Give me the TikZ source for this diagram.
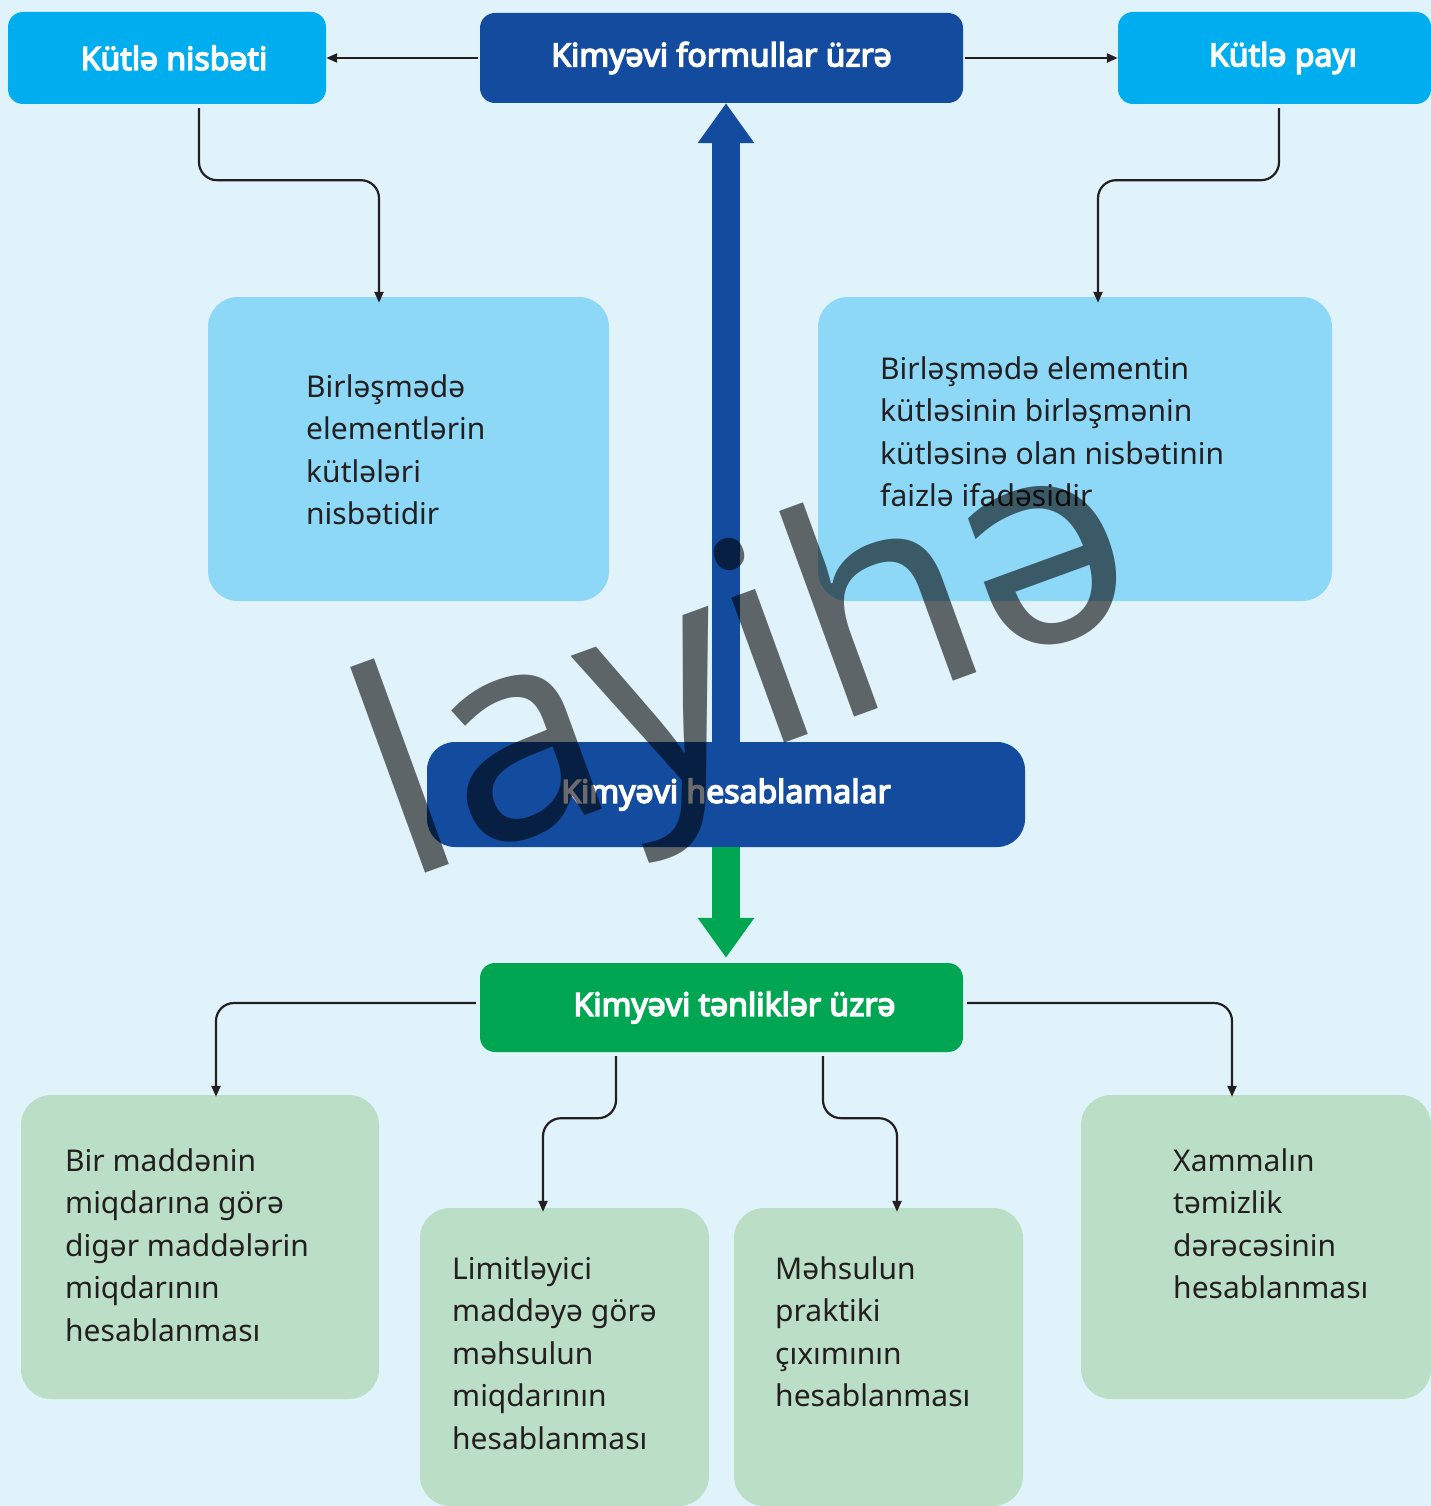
\documentclass[tikz,border=0pt]{standalone}
\usepackage{fontspec}
\setmainfont{Noto Sans}
\newfontfamily\hdrfont{Noto Sans}[FakeBold=4.5]
\usetikzlibrary{arrows.meta,calc}
\definecolor{bgc}{HTML}{E0F3FB}
\definecolor{cyanc}{HTML}{00AEEF}
\definecolor{darkc}{HTML}{134B9F}
\definecolor{lightc}{HTML}{8ED8F7}
\definecolor{greenc}{HTML}{00A651}
\definecolor{lgreenc}{HTML}{BBDFC6}
\definecolor{inkc}{HTML}{231F20}
\tikzset{
  hdr/.style={rectangle, rounded corners=15pt, inner sep=0pt, text=white,
    font=\hdrfont\fontsize{32}{37}\selectfont},
  softbox/.style={rectangle, rounded corners=30pt, inner sep=0pt},
  bodytext/.style={anchor=north west, align=left, inner sep=0pt, text=inkc,
    font=\fontsize{30}{42.5}\selectfont},
  conn/.style={draw=inkc, line width=2.2pt, rounded corners=18pt,
    -{Triangle[length=11pt,width=9pt]}},
  bigarrow/.style={line width=28pt, -{Triangle[length=40pt,width=54pt]}},
  wm/.style={inner sep=0pt, text=black, text opacity=0.58,
    font=\fontsize{288}{288}\selectfont}
}
\begin{document}
\begin{tikzpicture}[x=1pt,y=-1pt]
\useasboundingbox (0,0) rectangle (1431,1506);
\fill[bgc] (0,0) rectangle (1431,1506);

% top headers
\node[hdr, fill=cyanc, minimum width=318pt, minimum height=92pt] (kn) at (167,58) {\hspace*{14pt}Kütlə nisbəti};
\node[hdr, fill=darkc, minimum width=483pt, minimum height=90pt] (kf) at (721.5,58) {Kimyəvi formullar üzrə};
\node[hdr, fill=cyanc, minimum width=313pt, minimum height=92pt] (kp) at (1274.5,58) {\hspace*{17pt}Kütlə payı};

% light blue boxes
\node[softbox, fill=lightc, minimum width=401pt, minimum height=304pt] (lb1) at (408.5,449) {};
\node[softbox, fill=lightc, minimum width=514pt, minimum height=304pt] (lb2) at (1075,449) {};
\node[bodytext] (t1) at (306,374) {Birləşmədə\\elementlərin\\kütlələri\\nisbətidir};
\node[bodytext] (t2) at (880,356) {Birləşmədə elementin\\kütləsinin birləşmənin\\kütləsinə olan nisbətinin\\faizlə ifadəsidir};

% central
\node[hdr, rounded corners=28pt, fill=darkc, minimum width=598pt, minimum height=105pt] (kh) at (726,794.5) {Kimyəvi hesablamalar};
\node[hdr, fill=greenc, minimum width=483pt, minimum height=89pt] (kt) at (721.5,1007.5) {\hspace*{26pt}Kimyəvi tənliklər üzrə};

% green boxes
\node[softbox, fill=lgreenc, minimum width=358pt, minimum height=304pt] (g1) at (200,1247) {};
\node[softbox, fill=lgreenc, minimum width=289pt, minimum height=298pt] (g2) at (564.5,1357) {};
\node[softbox, fill=lgreenc, minimum width=289pt, minimum height=298pt] (g3) at (878.5,1357) {};
\node[softbox, fill=lgreenc, minimum width=350pt, minimum height=304pt] (g4) at (1256,1247) {};
\node[bodytext] (t3) at (65,1148) {Bir maddənin\\miqdarına görə\\digər maddələrin\\miqdarının\\hesablanması};
\node[bodytext] (t4) at (452,1256) {Limitləyici\\maddəyə görə\\məhsulun\\miqdarının\\hesablanması};
\node[bodytext] (t5) at (775,1256) {Məhsulun\\praktiki\\çıxımının\\hesablanması};
\node[bodytext] (t6) at (1173,1148) {Xammalın\\təmizlik\\dərəcəsinin\\hesablanması};

% big arrows
\draw[bigarrow, draw=darkc, fill=darkc] (kh.north) -- (kh.north |- kf.south);
\draw[bigarrow, draw=greenc, fill=greenc] (kh.south) -- ([yshift=5pt]kh.south |- kt.north);

% thin connectors
\draw[conn, shorten <=2pt] (kf.west) -- (kn.east);
\draw[conn, shorten <=2pt] (kf.east) -- (kp.west);
\draw[conn] ([xshift=32pt,yshift=-4pt]kn.south) -- ++(0,72) -| ([xshift=-29.5pt,yshift=-6pt]lb1.north);
\draw[conn] ([xshift=4.5pt,yshift=-4pt]kp.south) -- ++(0,72) -| ([xshift=23pt,yshift=-6pt]lb2.north);
\draw[conn] ([xshift=-4pt,yshift=4.5pt]kt.west) -| ([xshift=16pt,yshift=-2pt]g1.north);
\draw[conn] ([xshift=-105.5pt,yshift=-4pt]kt.south) -- ++(0,62) -| ([xshift=-21.5pt,yshift=-4pt]g2.north);
\draw[conn] ([xshift=101.5pt,yshift=-4pt]kt.south) -- ++(0,62) -| ([xshift=18.5pt,yshift=-4pt]g3.north);
\draw[conn] ([xshift=4pt,yshift=4.5pt]kt.east) -| ([xshift=-24pt,yshift=-2pt]g4.north);

% watermark
\node[wm, rotate=20, anchor=base west] (wmk) at (402,882) {layihə};
\end{tikzpicture}
\end{document}
